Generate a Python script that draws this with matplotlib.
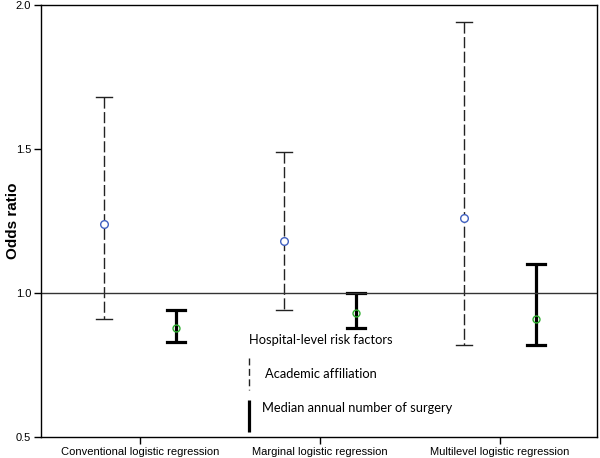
import matplotlib.pyplot as plt
import numpy as np

models = ["Conventional logistic regression", "Marginal logistic regression",
          "Multilevel logistic regression"]

# academic affiliation: odds ratio with 95% CI
acad_or = [1.24, 1.18, 1.26]
acad_lo = [0.91, 0.94, 0.82]
acad_hi = [1.68, 1.49, 1.94]

# median annual number of surgery
surg_or = [0.88, 0.93, 0.91]
surg_lo = [0.83, 0.88, 0.82]
surg_hi = [0.94, 1.00, 1.10]

fig = plt.figure(figsize=(6, 4.58), dpi=100)
ax = fig.add_axes([41 / 600, 21 / 458, 556 / 600, 432 / 458])

x = np.arange(len(models))
xa = x - 0.2
xs = x + 0.2

# academic: dashed bars with thin caps
for xi, lo, hi in zip(xa, acad_lo, acad_hi):
    ax.plot([xi, xi], [hi, lo], color="#222222", lw=1, dashes=(8, 2.5))
    ax.plot([xi - 0.045, xi + 0.045], [hi, hi], color="#222222", lw=1)
    ax.plot([xi - 0.045, xi + 0.045], [lo, lo], color="#222222", lw=1)
ax.plot(xa, acad_or, "o", mfc="white", mec="#4060c0", ms=5.5, mew=1, zorder=3)

# surgery volume: solid thick bars
for xi, lo, hi in zip(xs, surg_lo, surg_hi):
    ax.plot([xi, xi], [lo, hi], color="black", lw=2.3, solid_capstyle="butt")
    ax.plot([xi - 0.05, xi + 0.05], [hi, hi], color="black", lw=2.3)
    ax.plot([xi - 0.05, xi + 0.05], [lo, lo], color="black", lw=2.3)
ax.plot(xs, surg_or, "o", mfc="none", mec="#30b030", ms=5, mew=1, zorder=3)

ax.axhline(1.0, color="#333333", lw=1)

ax.set_xlim(-0.55, 2.54)
ax.set_ylim(0.5, 2.0)
ax.set_yticks([0.5, 1.0, 1.5, 2.0])
ax.set_yticklabels(["0.5", "1.0", "1.5", "2.0"])
ax.set_xticks(x)
ax.set_xticklabels(models)
ax.tick_params(labelsize=8, length=5, width=1, pad=2)
for lab in ax.get_xticklabels() + ax.get_yticklabels():
    lab.set_family("Liberation Sans")
for sp in ax.spines.values():
    sp.set_linewidth(1)
ax.set_ylabel("Odds ratio", fontsize=11, fontweight="bold", family="Liberation Sans")
ax.yaxis.set_label_coords(-0.037, 0.5)

# hand-drawn legend in the lower middle
lx = 0.606
ax.text(lx, 0.837, "Hospital-level risk factors", fontsize=9.3, family="Lato", va="center")
ax.plot([lx, lx], [0.774, 0.663], color="#222222", lw=1, dashes=(5, 2.5))
ax.text(0.695, 0.719, "Academic affiliation", fontsize=9.3, family="Lato", va="center")
ax.plot([lx, lx], [0.517, 0.628], color="black", lw=2.3, solid_capstyle="butt")
ax.text(0.678, 0.60, "Median annual number of surgery", fontsize=9.3, family="Lato", va="center")

fig.savefig("out.png", dpi=100)
